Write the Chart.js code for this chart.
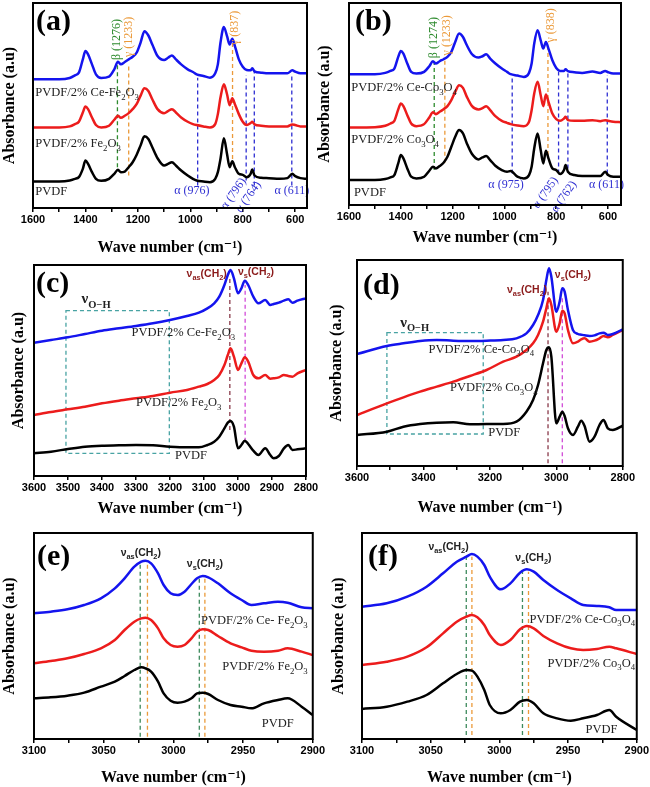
<!DOCTYPE html>
<html>
<head>
<meta charset="utf-8">
<script src="https://cdn.jsdelivr.net/npm/chart.js@4.4.1/dist/chart.umd.min.js"></script>
<style>
  body { margin: 0; background: #fff; }
  #wrap { position: relative; width: 650px; height: 787px; overflow: hidden; }
  #wrap canvas { position: absolute; }
</style>
</head>
<body>
<div id="wrap"></div>
<script>
// ---- data (absorbance in arbitrary units) ----

// (a) PVDF / Fe2O3, 1600-550 cm-1
const wnA = [1600,1500,1460,1440,1425,1410,1400,1390,1375,1360,1340,1310,1290,1276,1265,1250,1235,1220,1205,1190,1175,1160,1145,1125,1100,1085,1070,1055,1035,1010,990,976,950,925,905,895,885,872,860,850,840,830,815,800,785,770,764,755,730,700,660,630,611,600,580,555];
const ceFe2o3A = [388,388,392,400,408,448,473,463,433,403,392,396,418,441,433,440,448,456,468,498,533,520,493,458,446,453,460,448,433,418,410,403,398,393,406,433,498,546,518,493,510,488,448,426,416,415,421,412,408,406,406,406,415,411,406,406];
const fe2o3A = [243,243,246,253,260,288,306,298,273,250,243,248,266,278,272,278,286,298,313,338,361,353,328,298,286,292,298,288,273,260,253,250,246,243,253,283,333,373,343,310,331,313,283,260,250,256,260,252,248,246,246,246,252,250,246,246];
const pvdfA = [80,80,83,88,93,118,143,133,108,88,82,88,103,115,108,110,123,138,160,188,216,208,183,150,128,133,138,128,113,98,88,83,80,78,88,108,148,210,163,123,141,123,103,100,93,103,116,98,91,90,88,90,103,96,90,88];
const ticksA = [1600,1500,1400,1300,1200,1100,1000,900,800,700,600];
const labelsA = [1600,1400,1200,1000,800,600];

// (b) PVDF / Co3O4, 1600-550 cm-1
const wnB = [1600,1500,1460,1440,1425,1410,1400,1390,1375,1360,1340,1310,1290,1276,1265,1250,1235,1220,1205,1190,1175,1160,1145,1125,1100,1085,1070,1055,1035,1010,990,976,950,925,905,895,885,872,860,850,840,830,815,800,785,770,764,755,730,700,660,630,611,600,580,550];
const ceCo3o4B = [393,393,397,403,410,445,463,455,425,400,395,400,417,432,425,432,438,445,460,490,515,505,480,453,443,447,453,440,425,410,400,393,389,385,397,425,485,525,495,470,490,470,435,412,403,403,408,402,399,397,401,397,403,399,395,395];
const co3o4B = [233,234,238,245,253,287,305,297,270,245,237,243,263,279,273,280,288,297,315,340,360,352,325,297,287,291,297,285,267,253,247,243,239,237,250,285,335,370,330,297,332,310,275,258,253,260,265,255,253,253,255,252,255,253,250,249];
const pvdfB = [75,75,78,83,90,125,150,140,110,85,80,85,103,115,110,117,127,145,175,205,225,215,185,153,137,143,147,135,118,105,100,102,85,80,90,115,170,215,165,125,163,140,110,105,93,105,120,100,90,87,87,87,100,90,85,85];
const ticksB = ticksA;
const labelsB = labelsA;

// (c) PVDF / Fe2O3, 3600-2800 cm-1
const wnC = [3600,3550,3500,3450,3400,3350,3300,3250,3200,3150,3115,3090,3070,3055,3040,3030,3022,3012,3000,2990,2980,2970,2955,2940,2920,2905,2895,2880,2865,2852,2840,2825,2800];
const ceFe2o3C = [400,408,416,426,436,443,450,458,468,480,490,503,518,538,573,603,618,593,548,563,586,573,538,518,528,513,516,520,526,530,520,526,533];
const fe2o3C = [183,192,200,208,218,226,233,240,250,258,268,276,288,303,333,363,383,358,318,338,356,343,303,293,303,292,293,296,303,300,298,308,318];
const pvdfC = [68,73,81,88,91,92,93,92,88,86,86,93,103,118,143,160,165,148,83,93,106,96,76,63,83,63,53,60,83,93,78,80,83];
const ticksC = [3600,3500,3400,3300,3200,3100,3000,2900,2800];
const labelsC = ticksC;

// (d) PVDF / Co3O4, 3600-2800 cm-1
const wnD = [3600,3510,3460,3410,3360,3310,3260,3210,3160,3120,3090,3070,3055,3040,3030,3022,3015,3000,2990,2982,2975,2965,2950,2935,2925,2915,2900,2885,2870,2858,2845,2830,2800];
const ceCo3o4D = [336,360,368,375,378,376,375,376,378,383,398,423,453,498,558,593,568,463,493,533,523,468,408,396,394,392,390,392,398,400,393,396,410];
const co3o4D = [153,188,206,223,238,253,270,288,313,328,348,368,393,433,473,503,483,403,428,466,458,408,368,373,380,383,373,376,383,390,386,393,408];
const pvdfD = [93,103,118,126,130,131,125,126,126,133,163,198,243,308,348,356,328,128,148,163,150,113,93,118,136,120,73,88,123,138,113,108,121];
const ticksD = [3600,3500,3400,3300,3200,3100,3000,2900,2800];
const labelsD = [3600,3400,3200,3000,2800];

// (e) PVDF / Fe2O3, 3100-2900 cm-1
const wnE = [3100,3088,3076,3064,3052,3042,3035,3028,3023,3020,3016,3011,3007,3002,2997,2992,2987,2983,2979,2975,2968,2959,2951,2944,2935,2925,2918,2908,2900];
const ceFe2o3E = [377,382,389,402,422,452,482,517,532,535,527,497,462,437,432,442,465,482,489,485,467,437,417,402,407,412,409,395,392];
const fe2o3E = [227,234,242,255,272,297,327,352,362,364,357,332,302,282,277,282,302,322,329,327,309,287,275,265,262,265,272,262,252];
const pvdfE = [122,125,130,139,157,172,189,207,215,212,202,172,137,115,109,112,122,137,139,135,117,102,97,92,107,117,122,97,72];
const ticksE = [3100,3075,3050,3025,3000,2975,2950,2925,2900];
const labelsE = [3100,3050,3000,2950,2900];

// (f) PVDF / Co3O4, 3100-2900 cm-1
const wnF = [3100,3082,3067,3053,3041,3031,3024,3020,3016,3011,3007,2999,2992,2985,2980,2975,2968,2958,2948,2939,2929,2920,2915,2900];
const ceCo3o4F = [397,407,427,457,497,532,547,555,547,522,487,449,467,499,509,502,477,447,422,402,399,395,387,387];
const co3o4F = [222,232,247,275,317,352,367,372,365,342,312,282,297,329,339,332,309,287,272,267,270,277,272,255];
const pvdfF = [90,97,112,132,167,195,207,205,187,147,102,77,87,112,117,107,77,62,55,62,72,87,67,27];
const ticksF = ticksE;
const labelsF = labelsE;

// ---- styles ----
const SERIF = '"Liberation Serif", "DejaVu Serif", serif';
const SANS = '"Liberation Sans", Arial, sans-serif';
const BLUE_LINE = '#1414ee', RED_LINE = '#ec1c1c';
const GRN = '#2e8b2e', ORG = '#eb9a3a', BLU = '#2f2fd2', BRN = '#8a3a4a', MAG = '#d24cd8', GRN2 = '#3d8a5c', TEAL = '#48a3a3';
const TEXT = {
  series: { size: 12.5, family: SERIF, weight: 'normal', color: '#222' },
  greek:  { size: 12,   family: SERIF, weight: 'normal', color: '#222' },
  nu:     { size: 10.5, family: SANS,  weight: 'bold',   color: '#8b1a1a' },
  nuK:    { size: 10.5, family: SANS,  weight: 'bold',   color: '#222' },
  oh:     { size: 15,   family: SERIF, weight: 'bold',   color: '#222' }
};

// text with _x / _{xx} subscripts
function richParts(s) {
  const out = [];
  const re = /_\{([^}]*)\}|_(.)|([^_]+)/g;
  let m;
  while ((m = re.exec(s))) {
    if (m[1] !== undefined) out.push({ t: m[1], sub: true });
    else if (m[2] !== undefined) out.push({ t: m[2], sub: true });
    else out.push({ t: m[3], sub: false });
  }
  return out;
}

function drawRich(ctx, s, x, y, st, opt) {
  const parts = richParts(s);
  const fontOf = sub => `${st.weight} ${sub ? st.size * 0.7 : st.size}px ${st.family}`;
  let w = 0;
  parts.forEach(p => { ctx.font = fontOf(p.sub); p.w = ctx.measureText(p.t).width; w += p.w; });
  ctx.save();
  ctx.translate(x, y);
  if (opt.rot) ctx.rotate(opt.rot * Math.PI / 180);
  ctx.fillStyle = opt.c || st.color;
  ctx.textBaseline = opt.mid ? 'middle' : 'alphabetic';
  ctx.textAlign = 'left';
  let cx = opt.al === 'right' ? -w : opt.al === 'center' ? -w / 2 : 0;
  parts.forEach(p => {
    ctx.font = fontOf(p.sub);
    ctx.fillText(p.t, cx, p.sub ? st.size * 0.3 : 0);
    cx += p.w;
  });
  ctx.restore();
}

// dashed guides, boxes, labels and the frame
const annotPlugin = {
  id: 'annot',
  beforeDatasetsDraw(chart, args, o) {
    const { ctx, scales: { x, y } } = chart;
    ctx.save();
    ctx.lineWidth = 1.3;
    ctx.setLineDash([4, 3]);
    (o.box ? [o.box] : []).forEach(b => {
      ctx.strokeStyle = TEAL;
      const x0 = x.getPixelForValue(b.x0), x1 = x.getPixelForValue(b.x1);
      const y0 = y.getPixelForValue(b.y0), y1 = y.getPixelForValue(b.y1);
      ctx.strokeRect(x0, y1, x1 - x0, y0 - y1);
    });
    (o.vlines || []).forEach(l => {
      ctx.strokeStyle = l.c;
      const px = x.getPixelForValue(l.x);
      ctx.beginPath();
      ctx.moveTo(px, y.getPixelForValue(l.y0));
      ctx.lineTo(px, y.getPixelForValue(l.y1));
      ctx.stroke();
    });
    ctx.restore();
  },
  afterDatasetsDraw(chart, args, o) {
    const { ctx, chartArea: ca, scales: { x, y } } = chart;
    (o.texts || []).forEach(t => {
      drawRich(ctx, t.s, x.getPixelForValue(t.x), y.getPixelForValue(t.y), TEXT[t.st || 'greek'], t);
    });
    ctx.save();
    ctx.strokeStyle = '#000';
    ctx.lineWidth = 2;
    ctx.strokeRect(ca.left, ca.top, ca.width, ca.height);
    ctx.font = `bold 30px ${SERIF}`;
    ctx.fillStyle = '#000';
    ctx.textBaseline = 'alphabetic';
    ctx.fillText(o.letter, ca.left + o.letterAt[0], ca.top + o.letterAt[1]);
    ctx.restore();
  }
};

// ---- panels ----
const panels = [
  {
    letter: '(a)', canvas: [0, 0, 320, 257], plot: [33, 3, 307, 208], letterAt: [3, 27],
    wn: wnA, series: [ceFe2o3A, fe2o3A, pvdfA], xmin: 555, xmax: 1600, ymax: 618,
    ticks: ticksA, labels: labelsA,
    vlines: [
      { x: 1278, y0: 123, y1: 438, c: GRN }, { x: 1235, y0: 98, y1: 428, c: ORG }, { x: 839, y0: 148, y1: 498, c: ORG },
      { x: 972, y0: 68, y1: 393, c: BLU }, { x: 787, y0: 83, y1: 400, c: BLU }, { x: 756, y0: 68, y1: 413, c: BLU }, { x: 613, y0: 68, y1: 403, c: BLU }
    ],
    texts: [
      { x: 1591, y: 338, s: 'PVDF/2% Ce-Fe_2O_3', st: 'series' },
      { x: 1591, y: 183, s: 'PVDF/2% Fe_2O_3', st: 'series' },
      { x: 1591, y: 38, s: 'PVDF', st: 'series' },
      { x: 1280, y: 508, s: 'β (1276)', c: GRN, rot: -90, al: 'center', mid: true },
      { x: 1235, y: 516, s: 'γ (1233)', c: ORG, rot: -90, al: 'center', mid: true },
      { x: 831, y: 543, s: 'γ (837)', c: ORG, rot: -90, al: 'center', mid: true },
      { x: 994, y: 53, s: 'α (976)', c: BLU, al: 'center', mid: true },
      { x: 835, y: 43, s: 'α (796)', c: BLU, rot: -55, al: 'center', mid: true },
      { x: 778, y: 33, s: 'α (764)', c: BLU, rot: -55, al: 'center', mid: true },
      { x: 613, y: 53, s: 'α (611)', c: BLU, al: 'center', mid: true }
    ]
  },
  {
    letter: '(b)', canvas: [315, 0, 634, 247], plot: [349, 3, 621, 205], letterAt: [6, 27],
    wn: wnB, series: [ceCo3o4B, co3o4B, pvdfB], xmin: 550, xmax: 1600, ymax: 607,
    ticks: ticksB, labels: labelsB,
    vlines: [
      { x: 1271, y0: 105, y1: 430, c: GRN }, { x: 1230, y0: 127, y1: 437, c: ORG }, { x: 832, y0: 150, y1: 485, c: ORG },
      { x: 970, y0: 95, y1: 385, c: BLU }, { x: 791, y0: 95, y1: 410, c: BLU }, { x: 755, y0: 110, y1: 405, c: BLU }, { x: 603, y0: 95, y1: 390, c: BLU }
    ],
    texts: [
      { x: 1591, y: 343, s: 'PVDF/2% Ce-Co_3O_4', st: 'series' },
      { x: 1591, y: 187, s: 'PVDF/2% Co_3O_4', st: 'series' },
      { x: 1581, y: 27, s: 'PVDF', st: 'series' },
      { x: 1271, y: 503, s: 'β (1274)', c: GRN, rot: -90, al: 'center', mid: true },
      { x: 1222, y: 510, s: 'γ (1233)', c: ORG, rot: -90, al: 'center', mid: true },
      { x: 819, y: 540, s: 'γ (838)', c: ORG, rot: -90, al: 'center', mid: true },
      { x: 994, y: 60, s: 'α (975)', c: BLU, al: 'center', mid: true },
      { x: 841, y: 37, s: 'α (795)', c: BLU, rot: -55, al: 'center', mid: true },
      { x: 770, y: 25, s: 'α (762)', c: BLU, rot: -55, al: 'center', mid: true },
      { x: 606, y: 60, s: 'α (611)', c: BLU, al: 'center', mid: true }
    ]
  },
  {
    letter: '(c)', canvas: [9, 258, 320, 518], plot: [34, 265, 306, 476], letterAt: [2, 27],
    wn: wnC, series: [ceFe2o3C, fe2o3C, pvdfC], xmin: 2800, xmax: 3600, ymax: 633,
    ticks: ticksC, labels: labelsC,
    box: { x0: 3506, x1: 3202, y0: 68, y1: 496 },
    vlines: [{ x: 3024, y0: 138, y1: 593, c: BRN }, { x: 2979, y0: 103, y1: 573, c: MAG }],
    texts: [
      { x: 3460, y: 518, s: 'ν_{O−H}', st: 'oh' },
      { x: 3313, y: 420, s: 'PVDF/2% Ce-Fe_2O_3', st: 'series' },
      { x: 3300, y: 210, s: 'PVDF/2% Fe_2O_3', st: 'series' },
      { x: 3185, y: 50, s: 'PVDF', st: 'series' },
      { x: 3092, y: 598, s: 'ν_{as}(CH_2)', st: 'nu', al: 'center' },
      { x: 2947, y: 603, s: 'ν_s(CH_2)', st: 'nu', al: 'center' }
    ]
  },
  {
    letter: '(d)', canvas: [327, 253, 636, 517], plot: [357, 260, 623, 466], letterAt: [6, 34],
    wn: wnD, series: [ceCo3o4D, co3o4D, pvdfD], xmin: 2800, xmax: 3600, ymax: 618,
    ticks: ticksD, labels: labelsD,
    box: { x0: 3510, x1: 3220, y0: 96, y1: 400 },
    vlines: [{ x: 3025, y0: 8, y1: 523, c: BRN }, { x: 2982, y0: 8, y1: 508, c: MAG }],
    texts: [
      { x: 3470, y: 418, s: 'ν_{O−H}', st: 'oh' },
      { x: 3385, y: 340, s: 'PVDF/2% Ce-Co_3O_4', st: 'series' },
      { x: 3320, y: 225, s: 'PVDF/2% Co_3O_4', st: 'series' },
      { x: 3205, y: 91, s: 'PVDF', st: 'series' },
      { x: 3088, y: 518, s: 'ν_{as}(CH_2)', st: 'nu', al: 'center' },
      { x: 2950, y: 563, s: 'ν_s(CH_2)', st: 'nu', al: 'center' }
    ]
  },
  {
    letter: '(e)', canvas: [0, 526, 326, 787], plot: [34, 533, 313, 739], letterAt: [3, 32],
    wn: wnE, series: [ceFe2o3E, fe2o3E, pvdfE], xmin: 2900, xmax: 3100, ymax: 618,
    ticks: ticksE, labels: labelsE,
    vlines: [
      { x: 3023.8, y0: 7, y1: 532, c: GRN2 }, { x: 3018.6, y0: 7, y1: 527, c: ORG },
      { x: 2981.4, y0: 7, y1: 482, c: GRN2 }, { x: 2977.4, y0: 7, y1: 482, c: ORG }
    ],
    texts: [
      { x: 3023.4, y: 549, s: 'ν_{as}(CH_2)', st: 'nuK', al: 'center' },
      { x: 2977.4, y: 517, s: 'ν_s(CH_2)', st: 'nuK', al: 'center' },
      { x: 2903.6, y: 345, s: 'PVDF/2% Ce- Fe_2O_3', st: 'series', al: 'right' },
      { x: 2903.6, y: 207, s: 'PVDF/2% Fe_2O_3', st: 'series', al: 'right' },
      { x: 2913.6, y: 35, s: 'PVDF', st: 'series', al: 'right' }
    ]
  },
  {
    letter: '(f)', canvas: [329, 526, 650, 787], plot: [362, 533, 637, 739], letterAt: [6, 32],
    wn: wnF, series: [ceCo3o4F, co3o4F, pvdfF], xmin: 2900, xmax: 3100, ymax: 618,
    ticks: ticksF, labels: labelsF,
    vlines: [
      { x: 3024.1, y0: 12, y1: 547, c: GRN2 }, { x: 3020, y0: 12, y1: 547, c: ORG },
      { x: 2983.2, y0: 12, y1: 502, c: GRN2 }, { x: 2978.8, y0: 12, y1: 502, c: ORG }
    ],
    texts: [
      { x: 3037, y: 567, s: 'ν_{as}(CH_2)', st: 'nuK', al: 'center' },
      { x: 2975.2, y: 535, s: 'ν_s(CH_2)', st: 'nuK', al: 'center' },
      { x: 2901.2, y: 349, s: 'PVDF/2% Ce-Co_3O_4', st: 'series', al: 'right' },
      { x: 2901.2, y: 217, s: 'PVDF/2% Co_3O_4', st: 'series', al: 'right' },
      { x: 2914, y: 19, s: 'PVDF', st: 'series', al: 'right' }
    ]
  }
];

const wrap = document.getElementById('wrap');
const titleFont = { family: SERIF, size: 16, weight: 'bold' };

panels.forEach(p => {
  const [cl, ct, cr, cb] = p.canvas;
  const [pl, pt, pr, pb] = p.plot;
  const cv = document.createElement('canvas');
  cv.width = cr - cl;
  cv.height = cb - ct;
  cv.style.left = cl + 'px';
  cv.style.top = ct + 'px';
  wrap.appendChild(cv);

  const colors = [BLUE_LINE, RED_LINE, '#000'];
  new Chart(cv.getContext('2d'), {
    type: 'line',
    data: {
      datasets: p.series.map((vals, k) => ({
        data: p.wn.map((w, i) => ({ x: w, y: vals[i] })),
        borderColor: colors[k],
        borderWidth: 2.5,
        pointRadius: 0,
        fill: false,
        cubicInterpolationMode: 'monotone'
      }))
    },
    options: {
      responsive: false,
      animation: false,
      devicePixelRatio: 1,
      events: [],
      layout: { padding: { left: 0, top: pt - ct, right: cr - pr, bottom: 0 } },
      scales: {
        x: {
          type: 'linear', reverse: true, min: p.xmin, max: p.xmax,
          afterBuildTicks: s => { s.ticks = p.ticks.map(v => ({ value: v })); },
          afterFit: s => { s.height = cb - pb; },
          ticks: {
            autoSkip: false, maxRotation: 0, padding: 1, color: '#000',
            font: { family: SANS, size: 11, weight: 'bold' },
            callback: v => p.labels.includes(v) ? String(v) : ''
          },
          grid: { drawOnChartArea: false, tickLength: 4, color: '#000', lineWidth: 1.5 },
          border: { display: false },
          title: { display: true, text: 'Wave number (cm⁻¹)', color: '#000', padding: 0, font: titleFont }
        },
        y: {
          min: 0, max: p.ymax,
          afterFit: s => { s.width = pl - cl; },
          ticks: { display: false },
          grid: { display: false },
          border: { display: false },
          title: { display: true, text: 'Absorbance (a.u)', color: '#000', padding: 0, font: titleFont }
        }
      },
      plugins: {
        legend: { display: false },
        tooltip: { enabled: false },
        annot: { letter: p.letter, letterAt: p.letterAt, box: p.box, vlines: p.vlines, texts: p.texts }
      }
    },
    plugins: [annotPlugin]
  });
});
</script>
</body>
</html>
